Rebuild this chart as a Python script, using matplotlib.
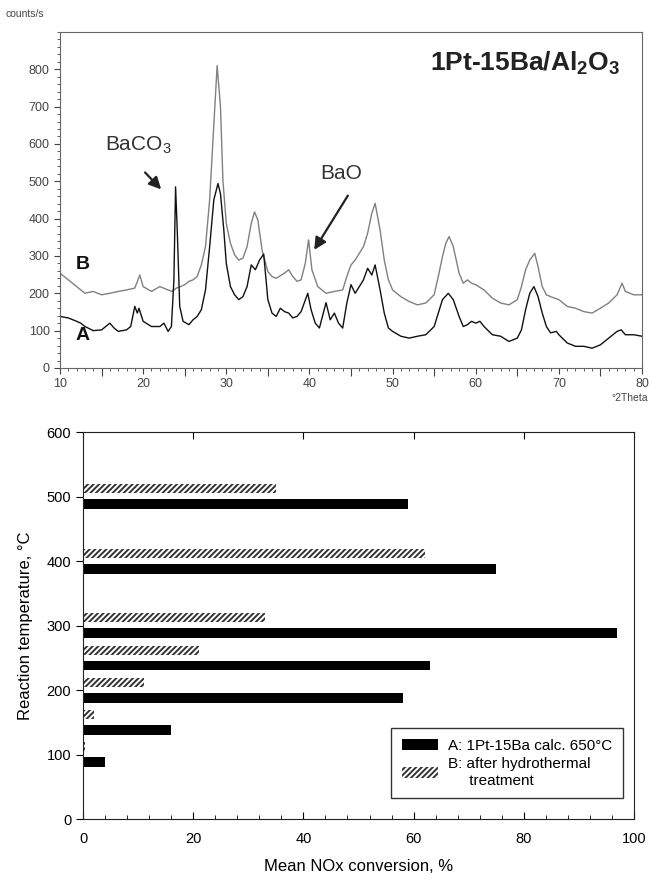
import matplotlib
matplotlib.use('Agg')
import matplotlib.pyplot as plt
from matplotlib.patches import Patch
from matplotlib.ticker import MultipleLocator

plt.rcParams['font.family'] = ['Liberation Sans', 'DejaVu Sans']
plt.rcParams['mathtext.fontset'] = 'custom'
plt.rcParams['mathtext.rm'] = 'Liberation Sans'
plt.rcParams['mathtext.bf'] = 'Liberation Sans:bold'
plt.rcParams['hatch.linewidth'] = 1.4

# XRD traces (2theta in degrees, counts/s)
theta_a = [10, 11, 12, 12.5, 13, 14, 15, 16, 16.5, 17, 18, 18.5, 19, 19.3, 19.5, 20, 21, 22, 22.5, 23,
           23.4, 23.7, 23.9, 24.1, 24.4, 24.8, 25.5, 26, 26.5, 27, 27.5, 28, 28.5, 29, 29.3, 29.7, 30,
           30.5, 31, 31.5, 32, 32.5, 33, 33.5, 34, 34.5, 35, 35.5, 36, 36.5, 37, 37.5, 38, 38.5, 39,
           39.8, 40.2, 40.7, 41.2, 42.0, 42.5, 43, 43.5, 44, 44.5, 45, 45.5, 46, 46.5, 47, 47.5, 47.9,
           48.5, 49, 49.5, 50, 51, 52, 53, 54, 55, 55.5, 56, 56.7, 57.3, 58, 58.5, 59, 59.5, 60, 60.5,
           61, 62, 63, 64, 65, 65.5, 66, 66.5, 67, 67.5, 68, 68.5, 69, 69.7, 70, 71, 72, 73, 74, 75,
           76, 77, 77.5, 78, 79, 80]
counts_a = [138, 134, 125, 120, 111, 100, 102, 120, 107, 98, 102, 111, 165, 147, 160, 125, 111, 111, 120, 98,
            111, 236, 485, 370, 165, 125, 116, 129, 138, 156, 209, 325, 450, 494, 467, 370, 280,
            218, 196, 183, 191, 218, 276, 263, 289, 305, 183, 147, 138, 160, 151, 147, 134, 138, 151,
            200, 156, 120, 107, 175, 129, 147, 120, 107, 174, 223, 200, 218, 236, 267, 249, 276,
            209, 147, 107, 98, 85, 80, 85, 89, 111, 147, 183, 200, 183, 138, 111, 116, 125, 120, 125,
            111, 89, 85, 71, 80, 102, 156, 200, 218, 191, 147, 111, 94, 98, 89, 67, 58, 58, 53, 62,
            80, 98, 102, 89, 89, 85]

theta_b = [10, 10.5, 11, 12, 13, 14, 15, 16, 17, 18, 19, 19.6, 20, 21, 22, 23, 23.5, 24, 24.5, 25, 25.5,
           26, 26.5, 27, 27.5, 28, 28.5, 28.9, 29.3, 29.6, 30, 30.5, 31, 31.5, 32, 32.5, 33, 33.4, 33.8,
           34.3, 35, 35.5, 36, 37, 37.5, 38, 38.5, 39, 39.5, 39.9, 40.3, 41, 42, 43, 44, 44.5, 45,
           45.5, 46, 46.5, 47, 47.5, 47.9, 48.5, 49, 49.5, 50, 51, 52, 53, 54, 55, 55.5, 56, 56.4,
           56.8, 57.3, 58, 58.5, 59, 59.5, 60, 61, 62, 63, 64, 65, 65.5, 66, 66.5, 67.1, 67.5, 68,
           68.5, 69, 70, 71, 72, 73, 74, 75, 76, 77, 77.6, 78, 79, 80]
counts_b = [254, 245, 236, 218, 200, 205, 196, 200, 205, 209, 214, 249, 218, 205, 218, 209, 205, 214, 218, 223, 232,
            236, 245, 276, 325, 450, 650, 810, 700, 500, 387, 334, 303, 289, 294, 325, 387, 418, 396,
            316, 258, 245, 240, 254, 263, 245, 232, 236, 280, 343, 263, 218, 200, 205, 209, 245, 276,
            289, 307, 325, 361, 414, 441, 369, 289, 236, 209, 191, 178, 169, 174, 196, 245, 298, 334,
            352, 325, 254, 227, 236, 227, 223, 209, 187, 174, 169, 183, 218, 263, 289, 307, 271, 218,
            196, 191, 183, 165, 160, 151, 147, 160, 174, 196, 227, 205, 196, 196]

# NOx conversion bars
temps = [100, 150, 200, 250, 300, 400, 500]
conv_a = [4, 16, 58, 63, 97, 75, 59]
conv_b = [0.3, 2, 11, 21, 33, 62, 35]

fig = plt.figure(figsize=(6.5, 8.82), dpi=100)

# ---- top: XRD ----
ax1 = fig.add_axes([0.0923, 0.5828, 0.8954, 0.3810])
ax1.plot(theta_b, counts_b, color='#808080', lw=1.0)
ax1.plot(theta_a, counts_a, color='#111111', lw=1.0)
ax1.set_xlim(10, 80)
ax1.set_ylim(0, 900)
ax1.xaxis.set_major_locator(MultipleLocator(10))
ax1.xaxis.set_minor_locator(MultipleLocator(1))
ax1.set_yticks(range(0, 801, 100))
ax1.yaxis.set_minor_locator(MultipleLocator(20))
ax1.tick_params(axis='both', which='major', labelsize=9, labelcolor='#444', color='#444', length=4)
ax1.tick_params(axis='both', which='minor', color='#444', length=2)
for sp in ax1.spines.values():
    sp.set_color('#666')
sec = ax1.secondary_xaxis('bottom')
sec.set_xticks([15, 25, 35, 45, 55, 65, 75])
sec.set_xticklabels([])
sec.tick_params(length=6, color='#444')
sec.spines['bottom'].set_visible(False)

ax1.text(77.4, 815, r'1Pt-15Ba/Al$_\mathbf{2}$O$_\mathbf{3}$', ha='right', va='center',
         fontsize=19, fontweight='bold', color='#222')
ax1.text(15.4, 597, r'BaCO$_3$', ha='left', va='center', fontsize=15, color='#333')
ax1.text(41.3, 521, 'BaO', ha='left', va='center', fontsize=15, color='#333')
ax1.text(12.7, 278, 'B', ha='center', va='center', fontsize=14, fontweight='bold', color='#111')
ax1.text(12.7, 86, 'A', ha='center', va='center', fontsize=14, fontweight='bold', color='#111')
ax1.annotate('', xy=(22.4, 473), xytext=(20.0, 529),
             arrowprops=dict(arrowstyle='-|>', color='#222', lw=1.6, mutation_scale=18))
ax1.annotate('', xy=(40.4, 310), xytext=(44.8, 468),
             arrowprops=dict(arrowstyle='-|>', color='#222', lw=1.6, mutation_scale=18))
fig.text(0.008, 0.984, 'counts/s', fontsize=7.5, color='#444', va='center')
fig.text(0.997, 0.549, '°2Theta', fontsize=7.5, color='#444', va='center', ha='right')

# ---- bottom: NOx conversion ----
ax2 = fig.add_axes([0.1277, 0.0714, 0.8477, 0.4388])
ya = [t - 12 for t in temps]
yb = [t + 12 for t in temps]
ax2.barh(ya, conv_a, height=15, color='black')
ax2.barh(yb, conv_b, height=14, color='white', edgecolor='#333', linewidth=0, hatch='//////')
ax2.set_xlim(0, 100)
ax2.set_ylim(0, 600)
ax2.set_xticks(range(0, 101, 20))
ax2.xaxis.set_minor_locator(MultipleLocator(4))
ax2.set_yticks(range(0, 601, 100))
ax2.tick_params(axis='x', which='both', direction='in', top=True, labelsize=10.5, pad=9)
ax2.tick_params(axis='x', which='minor', top=False, length=3)
ax2.tick_params(axis='x', which='major', length=5)
ax2.tick_params(axis='y', direction='out', labelsize=10.5, length=5)
for sp in ax2.spines.values():
    sp.set_color('#222')
ax2.set_xlabel('Mean NOx conversion, %', fontsize=12, labelpad=10)
ax2.set_ylabel('Reaction temperature, °C', fontsize=12, labelpad=10)

handles = [Patch(facecolor='black', label='A: 1Pt-15Ba calc. 650°C'),
           Patch(facecolor='white', edgecolor='#333', linewidth=0, hatch='//////',
                 label='B: after hydrothermal\n     treatment')]
leg = ax2.legend(handles=handles, loc='lower right', bbox_to_anchor=(0.993, 0.034),
                 fontsize=11, frameon=True, fancybox=False, edgecolor='black',
                 handlelength=2.4, handleheight=0.8, borderpad=0.7, labelspacing=0.3,
                 handletextpad=0.6)
leg.get_frame().set_linewidth(1.0)

fig.savefig('out.png', dpi=100)
